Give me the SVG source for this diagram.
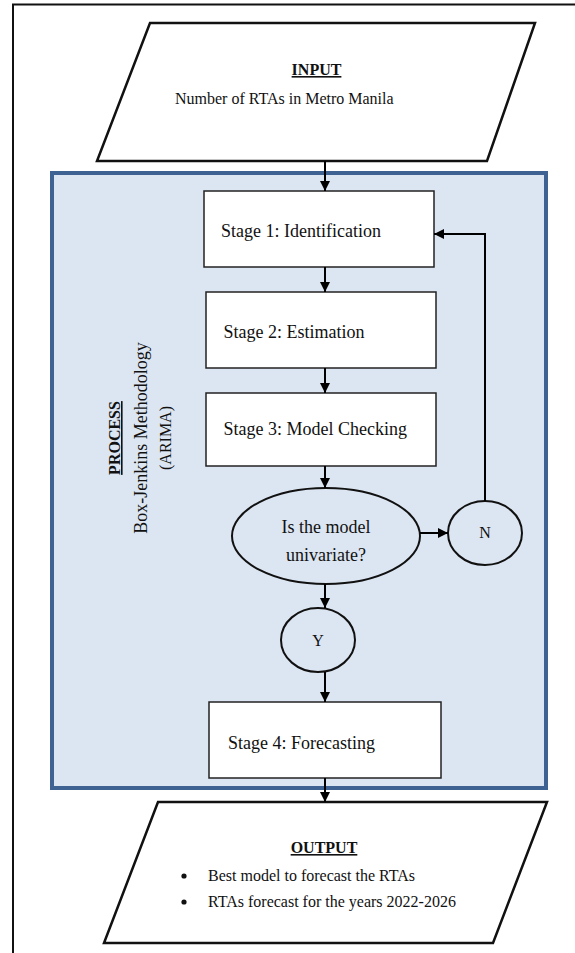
<svg xmlns="http://www.w3.org/2000/svg" width="575" height="953" viewBox="0 0 575 953">
<style>
text{font-family:"Liberation Serif","Times New Roman",serif;fill:#111}
.st{font-size:18px}
.sm{font-size:16px}
.b{font-weight:bold;text-decoration:underline}
.box{fill:#fff;stroke:#222;stroke-width:1.5}
.el{fill:none;stroke:#111;stroke-width:2}
.pg{fill:#fff;stroke:#111;stroke-width:2.5}
.cn{fill:none;stroke:#000;stroke-width:2}
</style>
<defs>
<marker id="ah" markerUnits="userSpaceOnUse" markerWidth="11" markerHeight="11" refX="10" refY="5" orient="auto">
<path d="M0,0 L10,5 L0,10 z" fill="#000"/>
</marker>
</defs>
<rect width="575" height="953" fill="#fff"/>
<path d="M13,953 V4.5 H575" fill="none" stroke="#111" stroke-width="2"/>
<g id="input">
<polygon class="pg" points="150,23 535,23 487,161 97,161"/>
<text class="sm b" x="316.5" y="75" text-anchor="middle">INPUT</text>
<text class="sm" x="175" y="104">Number of RTAs in Metro Manila</text>
</g>
<g id="process">
<rect x="52" y="173" width="494" height="615" fill="#dce6f2" stroke="#3e6292" stroke-width="4"/>
<g transform="translate(0,438) rotate(-90)">
<text class="sm b" x="0" y="120" text-anchor="middle">PROCESS</text>
<text class="st" x="0" y="147" text-anchor="middle">Box-Jenkins Methodology</text>
<text class="sm" x="0" y="171" text-anchor="middle">(ARIMA)</text>
</g>
</g>
<g id="stage1">
<rect class="box" x="204" y="191" width="230" height="76"/>
<text class="st" x="221" y="237">Stage 1: Identification</text>
</g>
<g id="stage2">
<rect class="box" x="206" y="292" width="230" height="76"/>
<text class="st" x="223.5" y="338">Stage 2: Estimation</text>
</g>
<g id="stage3">
<rect class="box" x="206" y="393" width="230" height="73"/>
<text class="st" x="223.5" y="435">Stage 3: Model Checking</text>
</g>
<g id="decision">
<ellipse class="el" cx="326" cy="536" rx="94" ry="48"/>
<text class="st" x="326" y="533" text-anchor="middle">Is the model</text>
<text class="st" x="326" y="561" text-anchor="middle">univariate?</text>
</g>
<g id="no">
<ellipse class="el" cx="485" cy="533" rx="37" ry="32"/>
<text class="sm" x="485" y="538" text-anchor="middle">N</text>
</g>
<g id="yes">
<ellipse class="el" cx="318" cy="640" rx="37" ry="32"/>
<text class="sm" x="318" y="646" text-anchor="middle">Y</text>
</g>
<g id="stage4">
<rect class="box" x="209" y="702" width="232" height="76"/>
<text class="st" x="228" y="749">Stage 4: Forecasting</text>
</g>
<g id="output">
<polygon class="pg" points="158,802 547,802 493,943 104,943"/>
<text class="sm b" x="324" y="853" text-anchor="middle">OUTPUT</text>
<circle cx="184" cy="876" r="2.6" fill="#111"/>
<circle cx="184" cy="902" r="2.6" fill="#111"/>
<text class="sm" x="208" y="881">Best model to forecast the RTAs</text>
<text class="sm" x="208" y="907">RTAs forecast for the years 2022-2026</text>
</g>
<g id="connectors">
<line class="cn" x1="325" y1="161" x2="325" y2="191" marker-end="url(#ah)"/>
<line class="cn" x1="325" y1="267" x2="325" y2="292" marker-end="url(#ah)"/>
<line class="cn" x1="325" y1="368" x2="325" y2="393" marker-end="url(#ah)"/>
<line class="cn" x1="325" y1="466" x2="325" y2="488" marker-end="url(#ah)"/>
<line class="cn" x1="420" y1="533" x2="448" y2="533" marker-end="url(#ah)"/>
<polyline class="cn" points="485,501 485,234 434,234" marker-end="url(#ah)"/>
<line class="cn" x1="325" y1="584" x2="325" y2="608" marker-end="url(#ah)"/>
<line class="cn" x1="325" y1="672" x2="325" y2="702" marker-end="url(#ah)"/>
<line class="cn" x1="325" y1="778" x2="325" y2="802" marker-end="url(#ah)"/>
</g>
</svg>
